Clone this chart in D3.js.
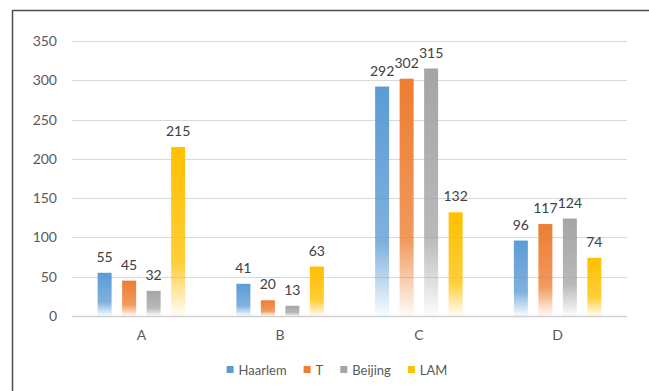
<!DOCTYPE html>
<html>
<head>
<meta charset="utf-8">
<script src="https://cdn.jsdelivr.net/npm/d3@7"></script>
<style>
  html, body { margin: 0; padding: 0; background: #fff; }
  svg { display: block; font-family: Lato, "Open Sans", sans-serif; }
</style>
</head>
<body>
<svg id="chart" width="649" height="391"></svg>
<script>
// Chart data
const categories = ["A", "B", "C", "D"];
const seriesNames = ["Haarlem", "T", "Beijing", "LAM"];
const seriesColors = ["#5B9BD5", "#ED7D31", "#A5A5A5", "#FFC000"];
const haarlem = [55, 41, 292, 96];
const tValues = [45, 20, 302, 117];
const beijing = [32, 13, 315, 124];
const lam = [215, 63, 132, 74];
const yTicks = [0, 50, 100, 150, 200, 250, 300, 350];

const seriesValues = [haarlem, tValues, beijing, lam];

const svg = d3.select("#chart");
const W = 649, H = 391;
const plot = { left: 72, right: 627, top: 41, bottom: 316 };
const FONT = "Lato, 'Open Sans', sans-serif";

// Frame of the chart area (only the top and left edges fall inside the view)
svg.append("path")
  .attr("d", `M12.5,${H} V10.5 H${W}`)
  .attr("fill", "none")
  .attr("stroke", "#4d4d4d")
  .attr("stroke-width", 1.5);

// Scales
const x0 = d3.scaleBand()
  .domain(categories)
  .range([plot.left, plot.right])
  .paddingInner(0.3694)
  .paddingOuter(0.1847);

const x1 = d3.scaleBand()
  .domain(seriesNames)
  .range([0, x0.bandwidth()])
  .paddingInner(0.4286)
  .paddingOuter(0);

const y = d3.scaleLinear().domain([0, 350]).range([plot.bottom, plot.top]);

// Gradients: solid toward the top, fading to white at the base
const defs = svg.append("defs");
seriesNames.forEach((s, i) => {
  const g = defs.append("linearGradient")
    .attr("id", "grad" + i)
    .attr("x1", 0).attr("y1", 0).attr("x2", 0).attr("y2", 1);
  g.append("stop").attr("offset", "0%").attr("stop-color", seriesColors[i]).attr("stop-opacity", 1);
  g.append("stop").attr("offset", "68%").attr("stop-color", seriesColors[i]).attr("stop-opacity", 0.78);
  g.append("stop").attr("offset", "100%").attr("stop-color", seriesColors[i]).attr("stop-opacity", 0.03);
});

// Gridlines
svg.append("g")
  .selectAll("line")
  .data(yTicks)
  .join("line")
  .attr("x1", plot.left).attr("x2", plot.right)
  .attr("y1", d => Math.round(y(d)) + 0.5)
  .attr("y2", d => Math.round(y(d)) + 0.5)
  .attr("stroke", d => d === 0 ? "#d0d0d0" : "#d9d9d9")
  .attr("stroke-width", d => d === 0 ? 1.5 : 1);

// Y axis labels
const yAxis = d3.axisLeft(y).tickValues(yTicks).tickSize(0).tickPadding(0);
const yg = svg.append("g")
  .attr("transform", `translate(${plot.left - 15},0)`)
  .call(yAxis);
yg.select(".domain").remove();
yg.selectAll("text")
  .attr("fill", "#595959")
  .style("font-size", "14px")
  .style("font-family", FONT);

// X axis labels
const xAxis = d3.axisBottom(x0).tickSize(0).tickPadding(0);
const xg = svg.append("g")
  .attr("transform", `translate(0,${plot.bottom + 14})`)
  .call(xAxis);
xg.select(".domain").remove();
xg.selectAll("text")
  .attr("fill", "#595959")
  .style("font-size", "14px")
  .style("font-family", FONT);

// Bars
const rows = [];
categories.forEach((c, ci) => {
  seriesNames.forEach((s, si) => {
    rows.push({ cat: c, series: s, si, value: seriesValues[si][ci] });
  });
});

svg.append("g")
  .selectAll("rect")
  .data(rows)
  .join("rect")
  .attr("x", d => x0(d.cat) + x1(d.series))
  .attr("y", d => y(d.value))
  .attr("width", x1.bandwidth())
  .attr("height", d => y(0) - y(d.value))
  .attr("fill", d => `url(#grad${d.si})`);

// Value labels
svg.append("g")
  .selectAll("text")
  .data(rows)
  .join("text")
  .attr("x", d => x0(d.cat) + x1(d.series) + x1.bandwidth() / 2)
  .attr("y", d => y(d.value) - 11)
  .attr("text-anchor", "middle")
  .attr("fill", "#404040")
  .style("font-size", "14px")
  .text(d => d.value);

// Legend
const legend = svg.append("g").attr("transform", `translate(0,370)`);
const items = legend.selectAll("g")
  .data(seriesNames)
  .join("g");
items.append("rect")
  .attr("width", 7).attr("height", 7)
  .attr("y", -4)
  .attr("fill", (d, i) => seriesColors[i]);
items.append("text")
  .attr("x", 12)
  .attr("dy", "0.35em")
  .attr("fill", "#595959")
  .style("font-size", "13px")
  .text(d => d);
let offsets = [], cursor = 0;
items.each(function () {
  offsets.push(cursor);
  const tw = d3.select(this).select("text").node().getComputedTextLength();
  cursor += 12 + tw + 17;
});
const totalW = cursor - 17;
const startX = 337 - totalW / 2;
items.attr("transform", (d, i) => `translate(${startX + offsets[i]},0)`);
</script>
</body>
</html>
